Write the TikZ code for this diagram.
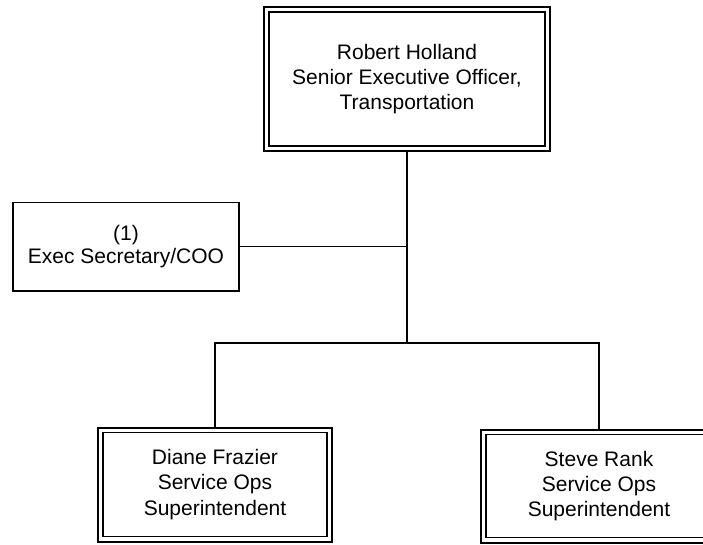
\documentclass[tikz,border=0pt]{standalone}
\usepackage{fontspec}
\setmainfont{Liberation Sans}
\begin{document}
\begin{tikzpicture}[x=1pt,y=-1pt,
  txt/.style={align=center,font=\fontsize{21}{25.4}\selectfont,inner sep=0pt},
  dblbox/.style={txt,draw,line width=2pt,
    path picture={\draw[line width=1.2pt]
      ([xshift=5pt,yshift=-5pt]path picture bounding box.north west) rectangle
      ([xshift=-5pt,yshift=5pt]path picture bounding box.south east);}},
  sglbox/.style={align=center,font=\fontsize{21}{23.5}\selectfont,inner sep=0pt,draw,line width=1.5pt},
  conn/.style={line width=1.3pt}]
\useasboundingbox (0,0) rectangle (703,544);
\node[dblbox,minimum width=286pt,minimum height=144pt] (top) at (407,79)
  {Robert Holland\\Senior Executive Officer,\\Transportation};
\node[sglbox,minimum width=226pt,minimum height=88.5pt] (sec) at (126,246.75)
  {(1)\\Exec Secretary/COO};
\node[dblbox,minimum width=234pt,minimum height=114pt] (diane) at (215,484.5)
  {Diane Frazier\\Service Ops\\Superintendent};
\node[dblbox,minimum width=236pt,minimum height=113pt] (steve) at (599,486)
  {Steve Rank\\Service Ops\\Superintendent};
\coordinate (j) at (407,343);
\draw[conn] (top.south) -- (j);
\draw[conn] (sec.east) -- (sec.east -| top.south);
\draw[conn] (diane.north) |- (j) -| (steve.north);
\end{tikzpicture}
\end{document}
